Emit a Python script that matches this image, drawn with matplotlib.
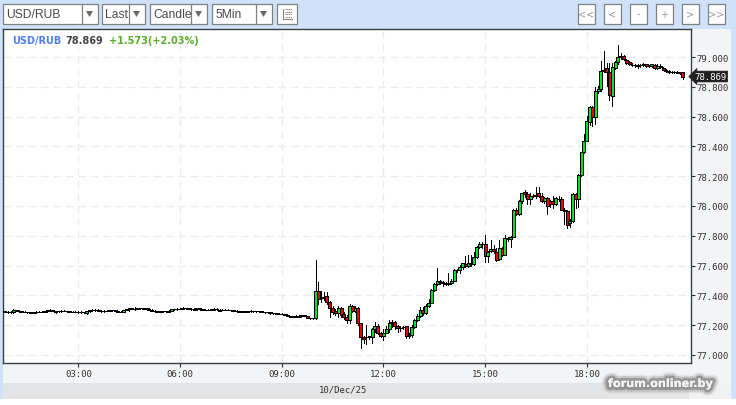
import numpy as np
import matplotlib
matplotlib.use("Agg")
import matplotlib.pyplot as plt
from matplotlib.patches import Rectangle, Polygon
import matplotlib.patheffects as pe

W, H = 736, 406
MONO = "DejaVu Sans Mono"

flat_open = [
77.293,77.295,77.291,77.287,77.285,77.300,77.297,77.294,77.291,77.289,
77.285,77.284,77.286,77.290,77.289,77.290,77.293,77.299,77.302,77.286,
77.294,77.294,77.295,77.296,77.293,77.291,77.291,77.289,77.288,77.288,
77.281,77.292,77.300,77.304,77.303,77.298,77.295,77.297,77.296,77.299,
77.299,77.295,77.291,77.288,77.302,77.306,77.312,77.310,77.311,77.314,
77.312,77.314,77.305,77.303,77.295,77.292,77.291,77.293,77.292,77.290,
77.297,77.307,77.307,77.309,77.311,77.314,77.312,77.309,77.302,77.306,
77.312,77.308,77.305,77.303,77.304,77.303,77.309,77.297,77.302,77.305,
77.303,77.302,77.301,77.297,77.292,77.290,77.289,77.289,77.292,77.294,
77.295,77.293,77.293,77.290,77.285,77.285,77.281,77.279,77.276,77.276,
77.277,77.270,77.262,77.258,77.257,77.257,77.260,77.265,77.262,77.248,77.245]
flat_high = [
77.297,77.297,77.293,77.292,77.309,77.302,77.299,77.295,77.293,77.291,
77.288,77.290,77.294,77.293,77.294,77.297,77.303,77.306,77.303,77.298,
77.298,77.299,77.300,77.298,77.296,77.295,77.294,77.292,77.292,77.291,
77.296,77.304,77.308,77.307,77.306,77.301,77.300,77.300,77.302,77.303,
77.302,77.298,77.294,77.305,77.309,77.318,77.317,77.322,77.318,77.317,
77.315,77.318,77.312,77.308,77.299,77.296,77.295,77.297,77.296,77.300,
77.310,77.311,77.313,77.315,77.319,77.318,77.315,77.314,77.312,77.316,
77.315,77.311,77.308,77.307,77.311,77.313,77.312,77.306,77.309,77.307,
77.306,77.304,77.303,77.299,77.294,77.292,77.295,77.297,77.299,77.297,
77.297,77.296,77.295,77.291,77.288,77.287,77.283,77.280,77.279,77.280,
77.278,77.272,77.264,77.261,77.265,77.268,77.268,77.266,77.262,77.250,77.249]
flat_low = [
77.289,77.288,77.283,77.284,77.283,77.292,77.290,77.288,77.286,77.282,
77.281,77.282,77.284,77.285,77.286,77.288,77.291,77.296,77.292,77.284,
77.290,77.291,77.292,77.289,77.287,77.287,77.285,77.284,77.284,77.283,
77.278,77.289,77.298,77.298,77.294,77.291,77.291,77.292,77.293,77.295,
77.292,77.287,77.287,77.285,77.299,77.296,77.309,77.300,77.308,77.309,
77.308,77.310,77.302,77.292,77.289,77.288,77.287,77.289,77.288,77.287,
77.294,77.303,77.304,77.306,77.308,77.308,77.306,77.305,77.299,77.303,
77.304,77.302,77.300,77.300,77.302,77.301,77.303,77.295,77.299,77.300,
77.299,77.298,77.294,77.289,77.287,77.285,77.286,77.287,77.290,77.291,
77.290,77.290,77.287,77.282,77.282,77.278,77.276,77.273,77.273,77.274,
77.267,77.259,77.255,77.254,77.254,77.254,77.258,77.259,77.245,77.242,77.243]
flat_close = [
77.295,77.291,77.287,77.288,77.300,77.297,77.294,77.291,77.289,77.285,
77.284,77.286,77.290,77.289,77.290,77.293,77.299,77.302,77.296,77.294,
77.294,77.295,77.296,77.293,77.291,77.291,77.289,77.288,77.288,77.286,
77.292,77.300,77.304,77.303,77.298,77.295,77.297,77.296,77.299,77.299,
77.295,77.291,77.290,77.302,77.306,77.312,77.310,77.311,77.314,77.312,
77.311,77.311,77.309,77.295,77.292,77.291,77.293,77.292,77.294,77.297,
77.307,77.307,77.309,77.311,77.314,77.312,77.309,77.310,77.306,77.312,
77.308,77.305,77.303,77.304,77.307,77.309,77.306,77.302,77.305,77.303,
77.302,77.301,77.297,77.292,77.290,77.289,77.292,77.294,77.295,77.293,
77.293,77.293,77.290,77.285,77.285,77.281,77.279,77.276,77.276,77.277,
77.270,77.262,77.258,77.257,77.260,77.263,77.265,77.262,77.248,77.245,77.246]

rally_open = [
77.246,77.431,77.391,77.391,77.393,77.353,77.313,77.295,77.279,77.313,
77.273,77.257,77.237,77.326,77.295,77.315,77.212,77.123,77.120,77.123,
77.123,77.174,77.196,77.145,77.129,77.147,77.172,77.214,77.219,77.196,
77.179,77.188,77.192,77.134,77.134,77.185,77.235,77.264,77.302,77.279,
77.331,77.346,77.438,77.476,77.499,77.490,77.481,77.479,77.486,77.495,
77.572,77.568,77.588,77.610,77.599,77.615,77.612,77.655,77.727,77.742,
77.747,77.662,77.695,77.711,77.693,77.645,77.716,77.673,77.783,77.778,
77.792,77.975,77.946,78.035,78.091,78.080,78.047,78.069,78.070,78.085,
78.069,78.031,78.051,78.031,78.031,78.015,78.045,78.047,77.975,77.968,
77.883,77.901,78.078,78.044,78.208,78.360,78.439,78.562,78.662,78.600,
78.770,78.785,78.904,78.924,78.902,78.741,78.926,78.964,78.998,79.009,
78.982,78.964,78.948,78.946,78.942,78.944,78.948,78.950,78.937,78.941,
78.948,78.926,78.942,78.926,78.915,78.904,78.901,78.899,78.897,78.895,78.897]
rally_high = [
77.637,77.487,77.431,77.425,77.425,77.364,77.331,77.308,77.326,77.320,
77.286,77.268,77.342,77.335,77.331,77.320,77.212,77.129,77.201,77.129,
77.183,77.219,77.208,77.152,77.174,77.196,77.232,77.237,77.230,77.201,
77.196,77.196,77.196,77.145,77.200,77.240,77.275,77.320,77.320,77.340,
77.375,77.440,77.480,77.581,77.505,77.495,77.490,77.550,77.510,77.575,
77.580,77.605,77.620,77.665,77.670,77.670,77.690,77.730,77.760,77.760,
77.805,77.695,77.775,77.735,77.720,77.775,77.725,77.805,77.795,77.800,
77.980,77.985,78.040,78.090,78.110,78.095,78.090,78.080,78.125,78.125,
78.085,78.060,78.060,78.040,78.070,78.060,78.065,78.060,77.985,77.975,
77.910,78.085,78.090,78.215,78.365,78.483,78.602,78.668,78.668,78.801,
78.803,78.971,79.038,78.960,78.960,78.958,78.970,79.080,79.030,79.015,
78.985,78.970,78.957,78.952,78.950,78.952,78.957,78.955,78.948,78.955,
78.955,78.950,78.950,78.930,78.920,78.912,78.907,78.906,78.904,78.900,78.901]
rally_low = [
77.244,77.342,77.353,77.370,77.342,77.252,77.275,77.268,77.252,77.252,
77.241,77.214,77.214,77.286,77.286,77.201,77.044,77.080,77.073,77.107,
77.080,77.152,77.141,77.118,77.103,77.145,77.156,77.190,77.174,77.156,
77.163,77.174,77.111,77.112,77.120,77.180,77.225,77.255,77.265,77.275,
77.325,77.346,77.430,77.470,77.475,77.465,77.470,77.470,77.478,77.495,
77.555,77.552,77.575,77.590,77.590,77.600,77.605,77.650,77.715,77.720,
77.626,77.625,77.690,77.685,77.630,77.635,77.665,77.670,77.765,77.725,
77.790,77.940,77.940,78.020,78.060,78.015,78.015,78.060,78.055,78.060,
78.025,78.020,77.945,77.990,77.985,78.005,78.035,77.970,77.880,77.850,
77.860,77.895,77.985,77.990,78.200,78.355,78.435,78.545,78.535,78.551,
78.760,78.775,78.897,78.808,78.714,78.674,78.920,78.955,78.985,78.980,
78.955,78.945,78.938,78.935,78.924,78.935,78.940,78.930,78.932,78.935,
78.918,78.918,78.925,78.910,78.898,78.895,78.893,78.890,78.890,78.885,78.852]
rally_close = [
77.431,77.375,77.382,77.388,77.353,77.313,77.290,77.279,77.313,77.270,
77.257,77.237,77.326,77.295,77.315,77.212,77.123,77.107,77.118,77.125,
77.174,77.196,77.145,77.129,77.147,77.172,77.214,77.219,77.196,77.179,
77.181,77.190,77.129,77.125,77.185,77.235,77.264,77.302,77.279,77.331,
77.346,77.438,77.476,77.498,77.490,77.481,77.479,77.486,77.495,77.572,
77.568,77.588,77.615,77.599,77.619,77.612,77.655,77.727,77.742,77.745,
77.666,77.689,77.711,77.695,77.640,77.716,77.673,77.783,77.778,77.792,
77.975,77.946,78.035,78.087,78.080,78.047,78.069,78.070,78.076,78.069,
78.031,78.051,77.998,78.013,78.013,78.051,78.050,77.975,77.968,77.874,
77.901,78.078,78.044,78.208,78.360,78.439,78.568,78.662,78.595,78.770,
78.785,78.904,78.915,78.897,78.747,78.931,78.964,79.002,79.004,78.986,
78.960,78.950,78.947,78.945,78.944,78.948,78.950,78.937,78.941,78.950,
78.924,78.942,78.930,78.915,78.904,78.901,78.899,78.897,78.895,78.893,78.869]

opens = np.array(flat_open + rally_open)
highs = np.array(flat_high + rally_high)
lows = np.array(flat_low + rally_low)
closes = np.array(flat_close + rally_close)

first_minute = 45
bar_minutes = 5
minutes = first_minute + bar_minutes * np.arange(len(closes))

y_ticks = [77.0, 77.2, 77.4, 77.6, 77.8, 78.0, 78.2, 78.4, 78.6, 78.8, 79.0]
x_ticks = [180, 360, 540, 720, 900, 1080]
x_labels = ["03:00", "06:00", "09:00", "12:00", "15:00", "18:00"]
date_label = "10/Dec/25"
last_price = "78.869"
change_text = "+1.573(+2.03%)"

BLUE = "#cfe2fa"
fig = plt.figure(figsize=(W / 100, H / 100), dpi=100, facecolor="white")

# chrome layer in pixel units
bg = fig.add_axes([0, 0, 1, 1], zorder=0)
bg.set_xlim(0, W); bg.set_ylim(H, 0); bg.axis("off")
bg.add_patch(Rectangle((0, 0), W, 400, fc=BLUE, ec="none"))
bg.add_patch(Rectangle((3, 30), 728, 354, fc="#f3f4f6", ec="none"))
bg.add_patch(Rectangle((3, 384), 686, 16, fc="#e3e4e6", ec="none"))
bg.add_patch(Rectangle((689, 384), 42, 16, fc="#f0f1f3", ec="none"))

def box(x0, x1, y0=4.5, y1=25):
    bg.add_patch(Rectangle((x0, y0), x1 - x0, y1 - y0, fc="white", ec="#808080", lw=0.9))

def select(x0, x1, div, label):
    box(x0, x1)
    bg.plot([div, div], [4.5, 25], color="#808080", lw=0.9)
    t = bg.text(x0 + 3.5, 15, label, fontsize=8.7, family="Liberation Sans", color="#4a4a4a",
                va="center", ha="left")
    t.set_clip_path(Rectangle((x0, 4), div - x0, 21, transform=bg.transData))
    c = (x1 + div) / 2
    bg.add_patch(Polygon([[c - 3.5, 12], [c + 3.5, 12], [c, 18]], fc="#6f6a60", ec="none"))

select(2.5, 97.5, 81.5, "USD/RUB")
select(101.5, 144.5, 128.5, "Last")
select(149.5, 206.5, 190.5, "Candle")
select(211.5, 271.5, 255.5, "5Min")
box(277, 297)
bg.plot([283, 283, 292], [10, 20, 20], color="#777777", lw=0.7)
for yy in (10, 12.5, 15, 17.5):
    bg.plot([285, 292], [yy, yy], color="#777777", lw=0.7, ls=(0, (1.2, 0.6)))

for x0, lab in zip([578, 604, 630, 656, 682, 708], ["<<", "<", "-", "+", ">", ">>"]):
    box(x0, x0 + 17)
    bg.text(x0 + 8.5, 14.5, lab, fontsize=7, color="#9a9a9a", ha="center", va="center",
            family="DejaVu Sans")

# price chart
X0, X1, Y0, Y1 = 3, 691, 30, 364
ax = fig.add_axes([X0 / W, 1 - Y1 / H, (X1 - X0) / W, (Y1 - Y0) / H], zorder=2, facecolor="white")
ax.set_xlim(46.7, 1264.4)
ax.set_ylim(76.946, 79.188)
ax.grid(True, color="#ebebeb", lw=0.9, ls=(0, (6, 4)))
ax.set_axisbelow(True)
ax.vlines(minutes, lows, highs, color="black", lw=0.72, zorder=3, antialiased=False)
up = closes >= opens
colors = np.where(up, "#00e22c", "#e60000")
ax.bar(minutes, closes - opens, bottom=opens, width=5.3, color=colors,
       edgecolor="black", linewidth=0.6, zorder=4, antialiased=False)

ax.yaxis.tick_right()
ax.set_yticks(y_ticks)
ax.set_yticklabels([f"{v:.3f}" for v in y_ticks], family=MONO, fontsize=6.5, color="#333333")
ax.set_xticks(x_ticks)
ax.set_xticklabels(x_labels, family=MONO, fontsize=6.5, color="#333333")
ax.tick_params(axis="y", length=3, width=0.8, color="#333333", pad=0.6)
ax.tick_params(axis="x", length=3, width=0.8, color="#333333", pad=1.5)
for s in ax.spines.values():
    s.set_color("#3a3f45"); s.set_linewidth(1.0)

trans = ax.get_yaxis_transform()
ax.text(1.005, closes[-1], last_price, transform=trans, family=MONO, fontsize=6.5, color="white",
        va="center", ha="left", clip_on=False, zorder=6,
        bbox=dict(boxstyle="larrow,pad=0.1", fc="#1f1f1f", ec="#1f1f1f", lw=0.5))

# top layer for header and footer text
top = fig.add_axes([0, 0, 1, 1], zorder=5)
top.set_xlim(0, W); top.set_ylim(H, 0); top.axis("off"); top.patch.set_alpha(0)
f = dict(family="DejaVu Sans", fontweight="bold", fontsize=7.0, va="center", ha="left")
top.text(12.5, 41, "USD/RUB", color="#4f7ff0", **f)
top.text(65.5, 41, last_price, color="#444444", **f)
top.text(108.5, 41, change_text, color="#5bab2a", **f)
top.text(343, 390.5, date_label, family=MONO, fontsize=6.5, color="#333333", ha="center", va="center")

wm = top.text(661, 385, "forum.onliner.by", family="DejaVu Sans", fontweight="bold", fontsize=8.1,
              color="#f4f4f4", ha="center", va="center")
wm.set_path_effects([
    pe.withStroke(linewidth=9, foreground="#8c8c8c", alpha=0.15),
    pe.withStroke(linewidth=6.5, foreground="#6f6f6f", alpha=0.25),
    pe.withStroke(linewidth=4, foreground="#555555", alpha=0.4),
    pe.Normal(),
])

fig.savefig("out.png", dpi=100, facecolor="white")
